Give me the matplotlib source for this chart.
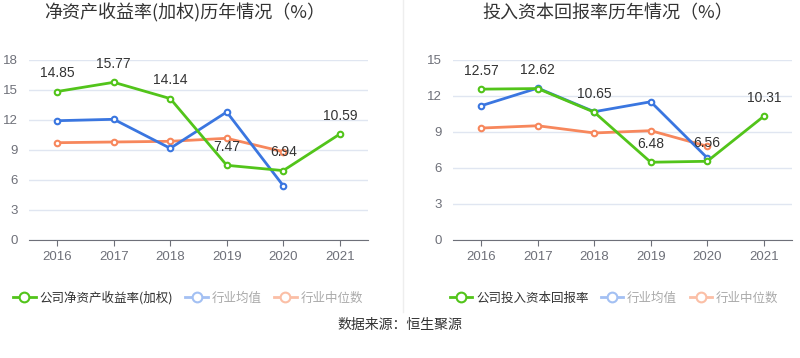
import matplotlib
matplotlib.use("Agg")
import matplotlib.pyplot as plt
from matplotlib.lines import Line2D

plt.rcParams['font.family'] = ['Noto Sans CJK SC', 'DejaVu Sans']

years = ['2016', '2017', '2018', '2019', '2020', '2021']

roe_company = [14.85, 15.77, 14.14, 7.47, 6.94, 10.59]
roe_avg = [11.93, 12.07, 9.17, 12.80, 5.43]
roe_median = [9.73, 9.80, 9.87, 10.17, 8.83]

roic_company = [12.57, 12.62, 10.65, 6.48, 6.56, 10.31]
roic_avg = [11.19, 12.66, 10.69, 11.52, 6.84]
roic_median = [9.33, 9.52, 8.92, 9.11, 7.81]

titles = ['净资产收益率(加权)历年情况（%）', '投入资本回报率历年情况（%）']
legend_company = ['公司净资产收益率(加权)', '公司投入资本回报率']
legend_avg = '行业均值'
legend_median = '行业中位数'
source_text = '数据来源：恒生聚源'

GREEN = '#52c41a'
BLUE = '#3a76e0'
ORANGE = '#f7875c'
BLUE_L = '#a3c0f3'
ORANGE_L = '#fbbfa6'
NUMFONT = ['Liberation Sans', 'DejaVu Sans']

fig = plt.figure(figsize=(8, 3.58), dpi=100)
W, H = 800, 358

def ax_rect(x0, x1, y0, y1):
    return [x0 / W, 1 - y1 / H, (x1 - x0) / W, (y1 - y0) / H]

axes_specs = [
    (ax_rect(29, 368, 60, 240), 18, [0, 3, 6, 9, 12, 15, 18], roe_company, roe_avg, roe_median, 185),
    (ax_rect(453, 792, 60, 240), 15, [0, 3, 6, 9, 12, 15], roic_company, roic_avg, roic_median, 608),
]

for i, (rect, ymax, yticks, comp, avg, med, tx) in enumerate(axes_specs):
    ax = fig.add_axes(rect)
    xs = list(range(len(years)))
    mk = dict(marker='o', markersize=4, markerfacecolor='white', markeredgewidth=1.5, linewidth=2)
    ax.plot(xs[:len(med)], med, color=ORANGE, markeredgecolor=ORANGE, zorder=3, **mk)
    ax.plot(xs[:len(avg)], avg, color=BLUE, markeredgecolor=BLUE, zorder=4, **mk)
    ax.plot(xs, comp, color=GREEN, markeredgecolor=GREEN, zorder=5, **mk)
    for x, v in zip(xs, comp):
        ax.annotate(f'{v:.2f}', (x, v), xytext=(0, 8), textcoords='offset points',
                    ha='center', va='bottom', fontsize=10, color='#333333', zorder=6,
                    family=NUMFONT)
    ax.set_xlim(-0.5, len(years) - 0.5)
    ax.set_ylim(0, ymax)
    ax.set_yticks(yticks)
    ax.set_xticks(xs)
    ax.set_xticklabels(years)
    ax.grid(axis='y', color='#e0e6f1', linewidth=1)
    ax.set_axisbelow(True)
    for s in ['top', 'right', 'left']:
        ax.spines[s].set_visible(False)
    ax.spines['bottom'].set_color('#6e7079')
    ax.tick_params(axis='y', length=0, labelsize=9.5, labelcolor='#6e7079', pad=8)
    ax.tick_params(axis='x', length=4, color='#6e7079', labelsize=9.5, labelcolor='#6e7079', pad=4)
    for lab in ax.get_xticklabels() + ax.get_yticklabels():
        lab.set_family(NUMFONT)
    fig.text(tx / W, 1 - 13 / H, titles[i], ha='center', va='center', fontsize=13, color='#333333')

    handles = [
        Line2D([0], [0], color=GREEN, marker='o', markerfacecolor='white', markeredgecolor=GREEN, markersize=7, markeredgewidth=1.5, linewidth=2),
        Line2D([0], [0], color=BLUE_L, marker='o', markerfacecolor='white', markeredgecolor=BLUE_L, markersize=7, markeredgewidth=1.5, linewidth=2),
        Line2D([0], [0], color=ORANGE_L, marker='o', markerfacecolor='white', markeredgecolor=ORANGE_L, markersize=7, markeredgewidth=1.5, linewidth=2),
    ]
    lx = 188 if i == 0 else 614
    leg = fig.legend(handles, [legend_company[i], legend_avg, legend_median],
                     loc='center', bbox_to_anchor=(lx / W, 1 - 298 / H), ncol=3, frameon=False,
                     fontsize=9, handlelength=1.8, handletextpad=0.3, columnspacing=1.0)
    texts = leg.get_texts()
    texts[0].set_color('#333333')
    texts[1].set_color('#aaaaaa')
    texts[2].set_color('#aaaaaa')

fig.add_artist(Line2D([403 / W, 403 / W], [1 - 0 / H, 1 - 312 / H], color='#eeeeee', linewidth=1))
fig.text(0.5, 1 - 325 / H, source_text, ha='center', va='center', fontsize=10, color='#333333')

fig.savefig('out.png', dpi=100)
